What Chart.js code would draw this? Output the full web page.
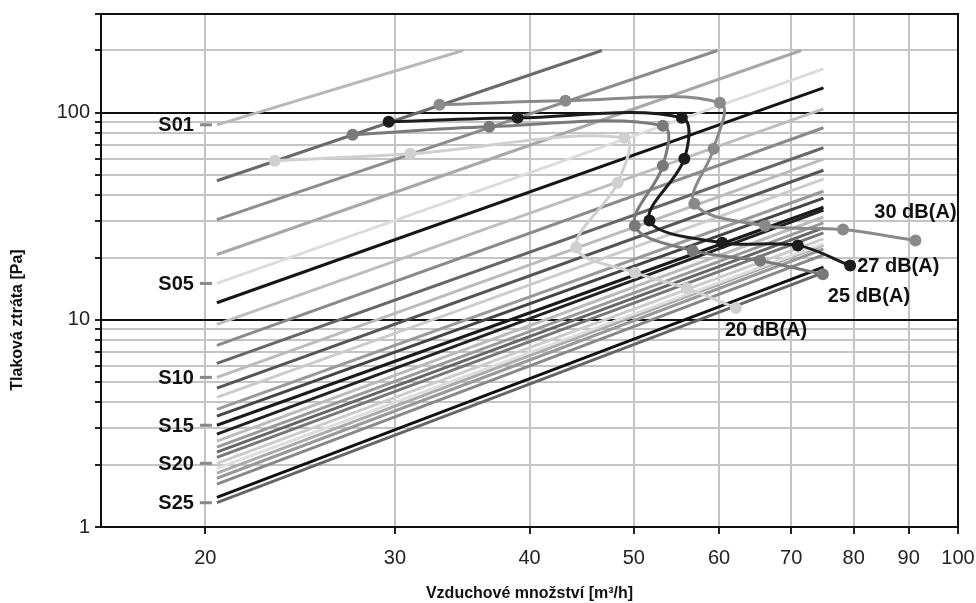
<!DOCTYPE html>
<html>
<head>
<meta charset="utf-8">
<script src="https://cdn.jsdelivr.net/npm/chart.js@4.4.1/dist/chart.umd.min.js"></script>
<style>
html, body { margin: 0; padding: 0; background: #fff; }
</style>
</head>
<body>
<canvas id="chart" width="976" height="603"></canvas>
<script>
// airflow / pressure drop data
const flowTicks = [20, 30, 40, 50, 60, 70, 80, 90, 100];
const dropTicks = [1, 2, 3, 4, 5, 6, 7, 8, 9, 10, 20, 30, 40, 50, 60, 70, 80, 90, 100, 200, 300];
const dropLabels = [1, 10, 100];

// setting lines S01..: start at 20.5 m3/h, end where read
const flowStart = 20.5;
const startDrop = [87.5, 47.0, 30.5, 20.7, 15.0, 12.1, 9.51, 7.54, 6.17, 5.28, 4.68, 4.23, 3.70, 3.43, 3.10, 2.81, 2.60, 2.43, 2.30, 2.17, 2.03, 1.92, 1.82, 1.72, 1.61, 1.39, 1.31];
const endFlow = [34.7, 46.7, 59.8, 71.5, 75, 75, 75, 75, 75, 75, 75, 75, 75, 75, 75, 75, 75, 75, 75, 75, 75, 75, 75, 75, 75, 75, 75];
const endDrop = [200, 200, 200, 200, 163, 132, 104.5, 84.7, 67.8, 59.7, 52.8, 47.8, 41.8, 38.7, 35.0, 33.9, 31.4, 29.4, 27.8, 26.3, 24.6, 23.3, 23.0, 22.0, 20.6, 18.0, 16.9];
const lineColors = ['#b8b8b8', '#6a6a6a', '#8c8c8c', '#a8a8a8', '#dcdcdc', '#151515', '#bdbdbd', '#8a8a8a', '#666666', '#bbbbbb', '#555555', '#cccccc', '#999999', '#444444', '#1a1a1a', '#222222', '#bbbbbb', '#999999', '#666666', '#777777', '#cccccc', '#dddddd', '#aaaaaa', '#999999', '#888888', '#111111', '#666666'];
const sLabels = ['S01', 'S05', 'S10', 'S15', 'S20', 'S25'];
const sLabelLine = [0, 4, 9, 14, 20, 26];

// noise curves
const dbNames = ['30 dB(A)', '27 dB(A)', '25 dB(A)', '20 dB(A)'];
const db30Flow = [33.0, 43.2, 60.1, 59.3, 56.9, 66.2, 78.2, 91.3];
const db30Drop = [109.3, 114.3, 111.7, 67.1, 36.4, 28.5, 27.3, 24.2];
const db27Flow = [29.6, 39.0, 55.4, 55.7, 51.7, 60.4, 71.0, 79.4];
const db27Drop = [90.5, 94.6, 94.6, 60.0, 30.2, 23.6, 22.9, 18.3];
const db25Flow = [27.4, 36.7, 53.2, 53.2, 50.1, 56.7, 65.5, 74.9];
const db25Drop = [78.3, 85.6, 86.5, 55.5, 28.5, 21.6, 19.3, 16.6];
const db20Flow = [23.2, 31.0, 49.0, 48.3, 44.2, 50.1, 56.0, 62.2];
const db20Drop = [58.7, 63.4, 75.8, 46.0, 22.4, 16.9, 14.2, 11.4];
const dbColors = ['#8a8a8a', '#1c1c1c', '#7a7a7a', '#d0d0d0'];
// label offset from last point [dx, dy, align]
const dbLabelPos = [[0, -28, 'center'], [7, 1, 'left'], [5, 22, 'left'], [-11, 22, 'left']];

const dbFlows = [db30Flow, db27Flow, db25Flow, db20Flow];
const dbDrops = [db30Drop, db27Drop, db25Drop, db20Drop];

const datasets = [];
dbFlows.forEach(function (fl, i) {
    datasets.push({
        data: fl.map((x, j) => ({ x: x, y: dbDrops[i][j] })),
        showLine: true,
        borderColor: dbColors[i],
        backgroundColor: dbColors[i],
        borderWidth: 3,
        pointRadius: 6,
        pointBorderWidth: 0,
        tension: 0.35,
        order: 0
    });
});
startDrop.forEach(function (p, i) {
    datasets.push({
        data: [{ x: flowStart, y: p }, { x: endFlow[i], y: endDrop[i] }],
        showLine: true,
        borderColor: lineColors[i],
        borderWidth: 3,
        pointRadius: 0,
        order: 1
    });
});

const gridGrey = '#c4c4c4';

const extras = {
    id: 'extras',
    afterDraw(chart) {
        const ctx = chart.ctx;
        const a = chart.chartArea;
        const xs = chart.scales.x, ys = chart.scales.y;
        ctx.save();
        // top and right frame
        ctx.strokeStyle = '#111';
        ctx.lineWidth = 2;
        ctx.beginPath();
        ctx.moveTo(a.left, a.top);
        ctx.lineTo(a.right, a.top);
        ctx.lineTo(a.right, a.bottom);
        ctx.stroke();

        // S labels
        ctx.font = 'bold 20px "Liberation Sans", Arial, sans-serif';
        ctx.textBaseline = 'middle';
        ctx.textAlign = 'right';
        sLabels.forEach(function (t, i) {
            const k = sLabelLine[i];
            const px = xs.getPixelForValue(flowStart);
            const py = ys.getPixelForValue(startDrop[k]);
            ctx.fillStyle = '#111';
            ctx.fillText(t, px - 23, py + 1);
            ctx.strokeStyle = '#888';
            ctx.lineWidth = 3;
            ctx.beginPath();
            ctx.moveTo(px - 17, py);
            ctx.lineTo(px - 5, py);
            ctx.stroke();
        });

        // dB labels
        dbNames.forEach(function (t, i) {
            const n = dbFlows[i].length - 1;
            const px = xs.getPixelForValue(dbFlows[i][n]);
            const py = ys.getPixelForValue(dbDrops[i][n]);
            const pos = dbLabelPos[i];
            ctx.textAlign = pos[2];
            ctx.fillStyle = '#111';
            ctx.fillText(t, px + pos[0], py + pos[1]);
        });

        // y axis title
        ctx.translate(18, 320);
        ctx.rotate(-Math.PI / 2);
        ctx.textAlign = 'center';
        ctx.font = 'bold 16px "Liberation Sans", Arial, sans-serif';
        ctx.fillText('Tlaková ztráta [Pa]', 0, 0);
        ctx.restore();
    }
};

new Chart(document.getElementById('chart'), {
    type: 'scatter',
    data: { datasets: datasets },
    options: {
        responsive: false,
        animation: false,
        devicePixelRatio: 1,
        layout: { padding: { top: 14, right: 18, left: 0, bottom: 0 } },
        plugins: { legend: { display: false }, tooltip: { enabled: false } },
        scales: {
            x: {
                type: 'logarithmic',
                min: 16,
                max: 100,
                afterBuildTicks: s => { s.ticks = flowTicks.map(v => ({ value: v })); },
                afterFit: s => { s.height = 76; s.paddingLeft = 0; s.paddingRight = 0; },
                grid: {
                    color: c => c.tick && c.tick.value === 100 ? 'rgba(0,0,0,0)' : gridGrey,
                    lineWidth: 2,
                    tickColor: '#222',
                    tickLength: 7,
                    tickWidth: 2
                },
                border: { color: '#111', width: 2 },
                ticks: {
                    autoSkip: false,
                    maxRotation: 0,
                    padding: 12,
                    color: '#222',
                    font: { family: '"Liberation Sans", Arial, sans-serif', size: 20 },
                    callback: v => String(v)
                },
                title: {
                    display: true,
                    text: 'Vzduchové množství [m³/h]',
                    color: '#111',
                    padding: { top: 0, bottom: 0 },
                    font: { family: '"Liberation Sans", Arial, sans-serif', size: 16, weight: 'bold' }
                }
            },
            y: {
                type: 'logarithmic',
                min: 1,
                max: 300,
                afterBuildTicks: s => { s.ticks = dropTicks.map(v => ({ value: v })); },
                afterFit: s => { s.width = 101; s.paddingTop = 0; s.paddingBottom = 0; },
                grid: {
                    color: c => {
                        const v = c.tick ? c.tick.value : 0;
                        return (v === 10 || v === 100 || v === 1) ? '#111' : (v === 300 ? 'rgba(0,0,0,0)' : gridGrey);
                    },
                    lineWidth: 2,
                    tickColor: '#222',
                    tickLength: 6,
                    tickWidth: 2
                },
                border: { color: '#111', width: 2 },
                ticks: {
                    autoSkip: false,
                    padding: 5,
                    color: '#222',
                    font: { family: '"Liberation Sans", Arial, sans-serif', size: 20 },
                    callback: v => dropLabels.includes(v) ? String(v) : ''
                }
            }
        }
    },
    plugins: [extras]
});
</script>
</body>
</html>
